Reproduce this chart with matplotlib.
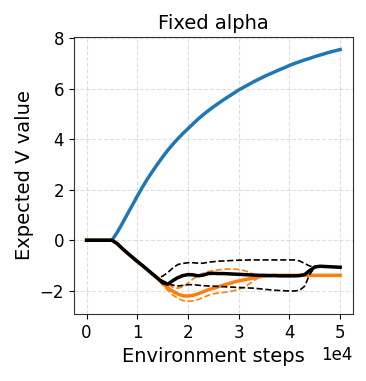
import numpy as np
import matplotlib
matplotlib.use('Agg')
import matplotlib.pyplot as plt
from matplotlib.ticker import MultipleLocator

# environment steps (thousands -> scaled below)
steps_k = list(range(0, 51))

blue_v = [0, 0, 0, 0, 0, 0, 0.3, 0.65, 1.02, 1.38,
          1.75, 2.1, 2.43, 2.73, 3.02, 3.3, 3.56, 3.8, 4.02, 4.23,
          4.42, 4.61, 4.8, 4.97, 5.13, 5.28, 5.42, 5.56, 5.69, 5.82,
          5.95, 6.06, 6.17, 6.28, 6.38, 6.48, 6.57, 6.66, 6.75, 6.83,
          6.92, 7.0, 7.07, 7.14, 7.2, 7.27, 7.33, 7.39, 7.45, 7.5,
          7.55]

orange_mean = [0, 0, 0, 0, 0, 0, -0.13, -0.32, -0.5, -0.67,
               -0.84, -1.0, -1.17, -1.34, -1.52, -1.7, -1.88, -2.02, -2.13, -2.2,
               -2.21, -2.18, -2.12, -2.04, -1.96, -1.9, -1.84, -1.78, -1.72, -1.66,
               -1.61, -1.57, -1.53, -1.49, -1.45, -1.42, -1.4, -1.39, -1.39, -1.39,
               -1.39, -1.39, -1.39, -1.39, -1.39, -1.39, -1.39, -1.39, -1.39, -1.39,
               -1.39]
orange_hi = [0, 0, 0, 0, 0, 0, -0.13, -0.32, -0.5, -0.67,
             -0.84, -1.0, -1.17, -1.34, -1.5, -1.62, -1.74, -1.86, -1.9, -1.84,
             -1.7, -1.53, -1.4, -1.31, -1.24, -1.2, -1.17, -1.15, -1.14, -1.14,
             -1.16, -1.2, -1.26, -1.36, -1.44, -1.42, -1.4, -1.39, -1.39, -1.39,
             -1.39, -1.39, -1.39, -1.39, -1.39, -1.39, -1.39, -1.39, -1.39, -1.39,
             -1.39]
orange_lo = [0, 0, 0, 0, 0, 0, -0.13, -0.32, -0.5, -0.67,
             -0.84, -1.0, -1.17, -1.34, -1.55, -1.78, -1.98, -2.17, -2.3, -2.39,
             -2.42, -2.4, -2.35, -2.27, -2.18, -2.12, -2.09, -2.07, -2.04, -2.0,
             -1.94, -1.86, -1.74, -1.6, -1.47, -1.42, -1.4, -1.39, -1.39, -1.39,
             -1.39, -1.39, -1.39, -1.39, -1.39, -1.39, -1.39, -1.39, -1.39, -1.39,
             -1.39]

black_mean = [0, 0, 0, 0, 0, 0, -0.13, -0.32, -0.5, -0.67,
              -0.84, -1.0, -1.17, -1.34, -1.5, -1.68, -1.74, -1.6, -1.48, -1.4,
              -1.36, -1.37, -1.41, -1.38, -1.32, -1.31, -1.32, -1.32, -1.33, -1.34,
              -1.35, -1.36, -1.37, -1.38, -1.39, -1.39, -1.4, -1.4, -1.41, -1.41,
              -1.41, -1.41, -1.4, -1.36, -1.2, -1.06, -1.03, -1.04, -1.05, -1.06,
              -1.07]
black_hi = [0, 0, 0, 0, 0, 0, -0.13, -0.32, -0.5, -0.67,
            -0.84, -1.0, -1.17, -1.34, -1.5, -1.42, -1.28, -1.1, -0.96, -0.92,
            -0.89, -0.89, -0.91, -0.91, -0.87, -0.85, -0.83, -0.82, -0.81, -0.8,
            -0.79, -0.79, -0.78, -0.78, -0.78, -0.78, -0.78, -0.78, -0.78, -0.78,
            -0.78, -0.78, -0.82, -0.92, -1.02, -1.05, -1.03, -1.04, -1.05, -1.06,
            -1.07]
black_lo = [0, 0, 0, 0, 0, 0, -0.13, -0.32, -0.5, -0.67,
            -0.84, -1.0, -1.17, -1.34, -1.5, -1.6, -1.7, -1.78, -1.81, -1.79,
            -1.76, -1.76, -1.78, -1.8, -1.81, -1.82, -1.83, -1.84, -1.85, -1.86,
            -1.87, -1.88, -1.89, -1.9, -1.92, -1.94, -1.96, -1.98, -1.99, -2.0,
            -2.01, -2.01, -1.98, -1.82, -1.35, -1.08, -1.03, -1.04, -1.05, -1.06,
            -1.07]

steps = np.array(steps_k) * 1000

fig = plt.figure(figsize=(3.66, 3.81), dpi=100)
ax = fig.add_axes([0.202, 0.176, 0.762, 0.727])

ax.plot(steps, blue_v, color='tab:blue', lw=2.5)

ax.plot(steps, orange_mean, color='tab:orange', lw=2.5)
ax.plot(steps, orange_hi, color='tab:orange', lw=1.2, ls='--')
ax.plot(steps, orange_lo, color='tab:orange', lw=1.2, ls='--')

ax.plot(steps, black_mean, color='black', lw=2.5)
ax.plot(steps, black_hi, color='black', lw=1.2, ls='--')
ax.plot(steps, black_lo, color='black', lw=1.2, ls='--')

ax.xaxis.set_major_locator(MultipleLocator(10000))
ax.grid(True, ls='--', alpha=0.4)
ax.ticklabel_format(axis='x', style='sci', scilimits=(0, 0))
ax.tick_params(labelsize=12)
ax.xaxis.get_offset_text().set_fontsize(12)
for sp in ax.spines.values():
    sp.set_color('#333333')
ax.set_title('Fixed alpha', fontsize=14)
ax.set_xlabel('Environment steps', fontsize=14)
ax.set_ylabel('Expected V value', fontsize=14)

fig.savefig('out.png', dpi=100)
